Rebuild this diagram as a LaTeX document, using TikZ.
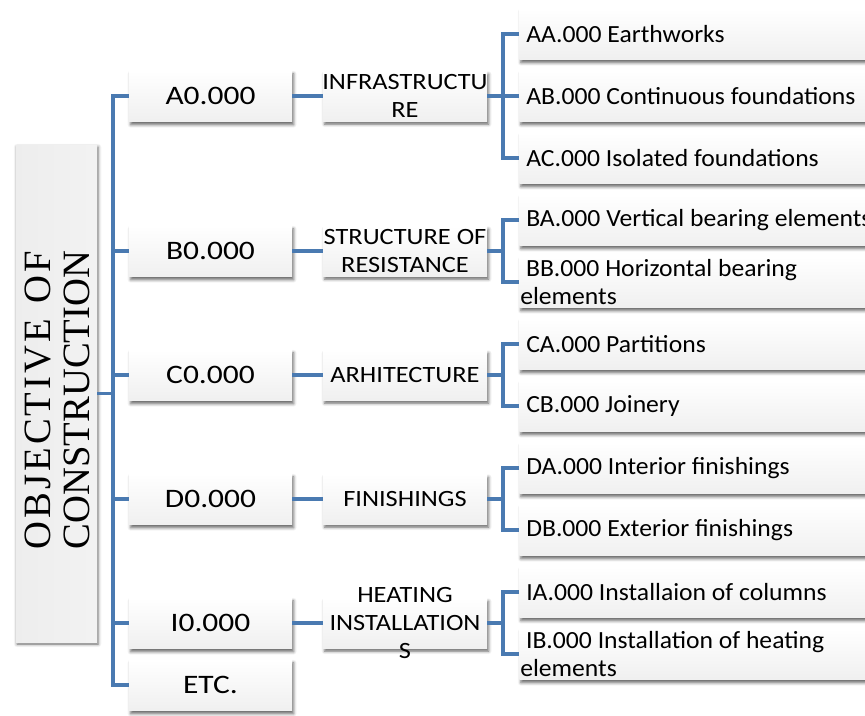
\documentclass[tikz,border=0pt]{standalone}
\usepackage{fontspec}
\usepackage{calc}
\setmainfont{Carlito}
\newfontfamily\titlefont{Liberation Serif}
\newfontfamily\lonefont[FakeStretch=1.18]{Carlito}
\newfontfamily\ltwofont[FakeStretch=1.13]{Carlito}
\newfontfamily\lthreefont[FakeStretch=1.04]{Carlito}
\usetikzlibrary{shadows.blur}
\definecolor{linkblue}{RGB}{74,122,177}
\tikzset{
  conn/.style={draw=linkblue, line width=2.6pt},
  boxbase/.style={draw=none, top color=white, bottom color=gray!12,
    blur shadow={shadow xshift=1.2pt, shadow yshift=-2.4pt, shadow blur radius=2.2pt, shadow opacity=60}},
  lone/.style={boxbase, minimum width=163*0.75pt, minimum height=51*0.75pt, inner sep=0pt,
    font=\lonefont\fontsize{20}{24}\selectfont},
  ltwo/.style={boxbase, minimum width=164*0.75pt, minimum height=50*0.75pt, inner sep=0pt},
  ltwotext/.style={inner sep=0pt, align=center, font=\ltwofont\fontsize{17.5}{21}\selectfont},
  lthree/.style={boxbase, anchor=west, minimum width=380*0.75pt, minimum height=51*0.75pt, inner sep=0pt},
  lthreetext/.style={inner sep=0pt, anchor=west, align=left, font=\lthreefont\fontsize{18.5}{21}\selectfont},
}
\begin{document}
\begin{tikzpicture}[x=0.75pt, y=-0.75pt]
\useasboundingbox (0,0) rectangle (865,715);
\clip (0,0) rectangle (865,715);

% root box with the rotated title (first line spread to the width of the second)
\node[draw=none, left color=gray!14, right color=gray!10,
  blur shadow={shadow xshift=0.8pt, shadow yshift=-1.5pt, shadow blur radius=2.4pt, shadow opacity=60},
  minimum width=81*0.75pt, minimum height=497*0.75pt, inner sep=0pt] (root) at (56.5,393.5) {};
\node[rotate=90, align=center, inner sep=0pt, font=\titlefont\fontsize{29}{29.3}\selectfont]
  (roottext) at (57,400)
  {\makebox[\widthof{CONSTRUCTION}][s]{O\hfill B\hfill J\hfill E\hfill C\hfill T\hfill I\hfill V\hfill E\hfill\ \hfill O\hfill F}\\CONSTRUCTION};

% first level
\node[lone] (a1) at (210.5,96) {A0.000};
\node[lone] (b1) at (210.5,251) {B0.000};
\node[lone] (c1) at (210.5,375) {C0.000};
\node[lone] (d1) at (210.5,499) {D0.000};
\node[lone] (i1) at (210.5,623) {I0.000};
\node[lone] (e1) at (210.5,685) {ETC.};

% second level
\node[ltwo] (a2) at (405,96) {};
\node[ltwo] (b2) at (405,251) {};
\node[ltwo] (c2) at (405,375) {};
\node[ltwo] (d2) at (405,499) {};
\node[ltwo] (i2) at (405,623) {};
\node[ltwotext] (a2t) at (405,96) {INFRASTRUCTU\\RE};
\node[ltwotext] (b2t) at (405,251) {STRUCTURE OF\\RESISTANCE};
\node[ltwotext] (c2t) at (405,375) {ARHITECTURE};
\node[ltwotext] (d2t) at (405,499) {FINISHINGS};
\node[ltwotext] (i2t) at (405,623) {HEATING\\INSTALLATION\\S};

% third level
\foreach \n/\y in {aa/34, ab/96, ac/158, ba/220, bb/282, ca/344, cb/406, da/468, db/530, ia/592, ib/654}
  \node[lthree] (\n) at (519,\y) {};
\node[lthreetext] (aat) at ([xshift=7*0.75pt]aa.west) {AA.000 Earthworks};
\node[lthreetext] (abt) at ([xshift=7*0.75pt]ab.west) {AB.000 Continuous foundations};
\node[lthreetext] (act) at ([xshift=7*0.75pt]ac.west) {AC.000 Isolated foundations};
\node[lthreetext] (bat) at ([xshift=7*0.75pt]ba.west) {BA.000 Vertical bearing elements};
\node[lthreetext] (bbt) at ([xshift=1*0.75pt]bb.west) {\ BB.000 Horizontal bearing\\elements};
\node[lthreetext] (cat) at ([xshift=7*0.75pt]ca.west) {CA.000 Partitions};
\node[lthreetext] (cbt) at ([xshift=7*0.75pt]cb.west) {CB.000 Joinery};
\node[lthreetext] (dat) at ([xshift=7*0.75pt]da.west) {DA.000 Interior finishings};
\node[lthreetext] (dbt) at ([xshift=7*0.75pt]db.west) {DB.000 Exterior finishings};
\node[lthreetext] (iat) at ([xshift=7*0.75pt]ia.west) {IA.000 Installaion of columns};
\node[lthreetext] (ibt) at ([xshift=1*0.75pt]ib.west) {\ IB.000 Installation of heating\\elements};

% branch positions
\coordinate (mt) at (113,0);
\coordinate (st) at (503,0);

% main trunk
\draw[conn] (root.east) -- (mt |- root.east);
\draw[conn] (a1.west) -- (mt |- a1.west) -- (mt |- e1.west) -- (e1.west);
\foreach \n in {b1,c1,d1,i1}
  \draw[conn] (\n.west) -- (mt |- \n.west);

% first to second level
\foreach \p/\q in {a1/a2, b1/b2, c1/c2, d1/d2, i1/i2}
  \draw[conn] (\p.east) -- (\q.west);

% second to third level
\foreach \p/\f/\l in {a2/aa/ac, b2/ba/bb, c2/ca/cb, d2/da/db, i2/ia/ib}{
  \draw[conn] (\p.east) -- (st |- \p.east);
  \draw[conn] (\f.west) -- (st |- \f.west) -- (st |- \l.west) -- (\l.west);
}
\draw[conn] (ab.west) -- (st |- ab.west);
\end{tikzpicture}
\end{document}
